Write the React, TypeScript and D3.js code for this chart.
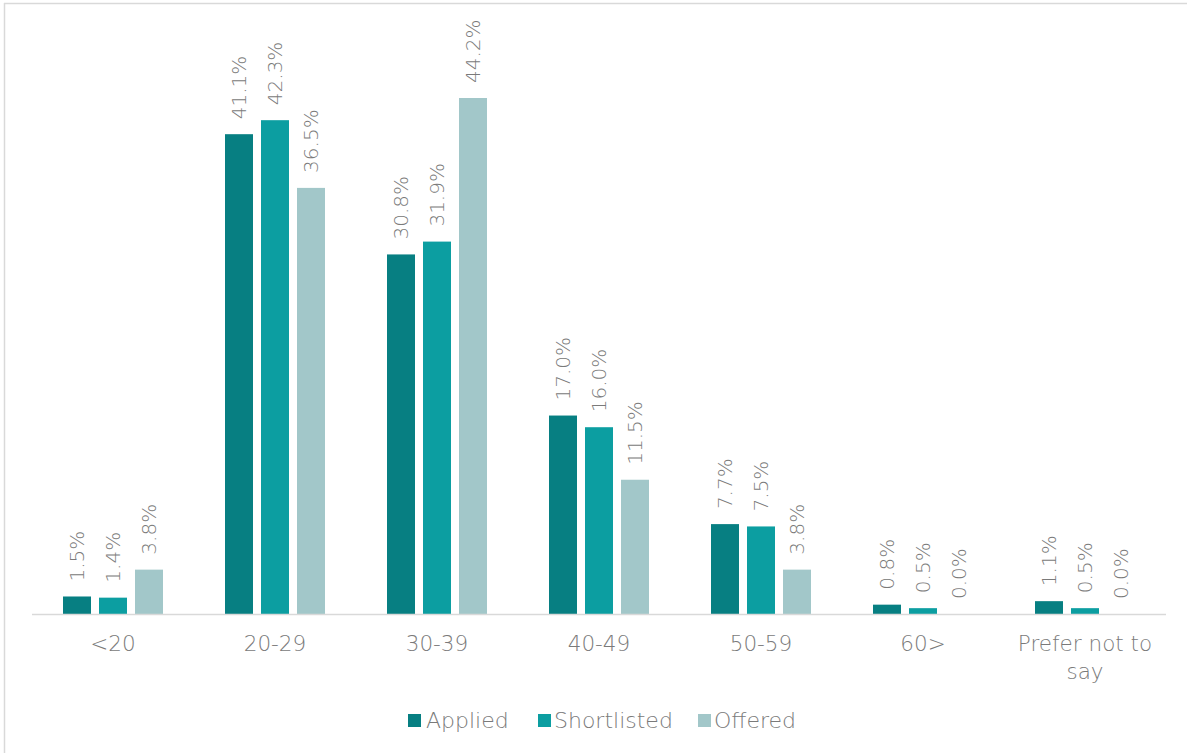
import React from "react";
import * as d3 from "d3";

const categories = ["<20", "20-29", "30-39", "40-49", "50-59", "60>", "Prefer not to say"];
const categoryLines = [["<20"], ["20-29"], ["30-39"], ["40-49"], ["50-59"], ["60>"], ["Prefer not to", "say"]];
const seriesNames = ["Applied", "Shortlisted", "Offered"];
const applied = [1.5, 41.1, 30.8, 17.0, 7.7, 0.8, 1.1];
const shortlisted = [1.4, 42.3, 31.9, 16.0, 7.5, 0.5, 0.5];
const offered = [3.8, 36.5, 44.2, 11.5, 3.8, 0.0, 0.0];
const colors = ["#077f82", "#0c9ea1", "#a2c7c9"];

const W = 1187;
const H = 753;
const FONT = "'DejaVu Sans', sans-serif";
const TEXT = "#7a7a7a";

export default function App() {
  const series = [applied, shortlisted, offered];
  const x = d3.scaleBand<string>().domain(categories).range([32, 1166]).paddingInner(0).paddingOuter(0);
  const inner = d3.scaleBand<string>().domain(seriesNames).range([0, 100]).paddingInner(8 / 36).paddingOuter(0);
  const y = d3.scaleLinear().domain([0, 44.2]).range([614, 98]);
  const groupOffset = (x.bandwidth() - 100) / 2;

  const legendItems = [
    { name: "Applied", sx: 408, tx: 426 },
    { name: "Shortlisted", sx: 538, tx: 554 },
    { name: "Offered", sx: 698, tx: 714 },
  ];

  return (
    <svg width={W} height={H} style={{ position: "absolute", left: 0, top: 0, background: "#fff" }}>
      <rect x={0} y={0} width={W} height={H} fill="#fff" />
      <line x1={4.5} x2={4.5} y1={3} y2={H} stroke="#d9d9d9" strokeWidth={1.5} />
      <line x1={4} x2={W} y1={3.5} y2={3.5} stroke="#d9d9d9" strokeWidth={1.5} />
      {categories.map((c, ci) => (
        <g key={c}>
          {series.map((vals, si) => {
            const bx = (x(c) as number) + groupOffset + (inner(seriesNames[si]) as number);
            const bw = inner.bandwidth();
            const v = vals[ci];
            const top = y(v);
            const cx = bx + bw / 2;
            const ly = top - 15;
            return (
              <g key={si}>
                {v > 0 && (
                  <rect x={bx} y={top} width={bw} height={614 - top} fill={colors[si]} />
                )}
                <text
                  transform={`translate(${cx},${ly}) rotate(-90)`}
                  textAnchor="start"
                  dominantBaseline="central"
                  fontFamily={FONT}
                  fontWeight={300}
                  fontSize={20}
                  fill={TEXT}
                >
                  {v.toFixed(1) + "%"}
                </text>
              </g>
            );
          })}
          {categoryLines[ci].map((ln, li) => (
            <text
              key={li}
              x={(x(c) as number) + x.bandwidth() / 2}
              y={651 + li * 28}
              textAnchor="middle"
              fontFamily={FONT}
              fontWeight={300}
              fontSize={21.5}
              fill={TEXT}
            >
              {ln}
            </text>
          ))}
        </g>
      ))}
      <line x1={32} x2={1166} y1={614.5} y2={614.5} stroke="#d9d9d9" strokeWidth={1.5} />
      {legendItems.map((it, i) => (
        <g key={it.name}>
          <rect x={it.sx} y={714} width={13} height={13} fill={colors[i]} />
          <text x={it.tx} y={727.5} fontFamily={FONT} fontWeight={300} fontSize={22} fill={TEXT}>
            {it.name}
          </text>
        </g>
      ))}
    </svg>
  );
}
